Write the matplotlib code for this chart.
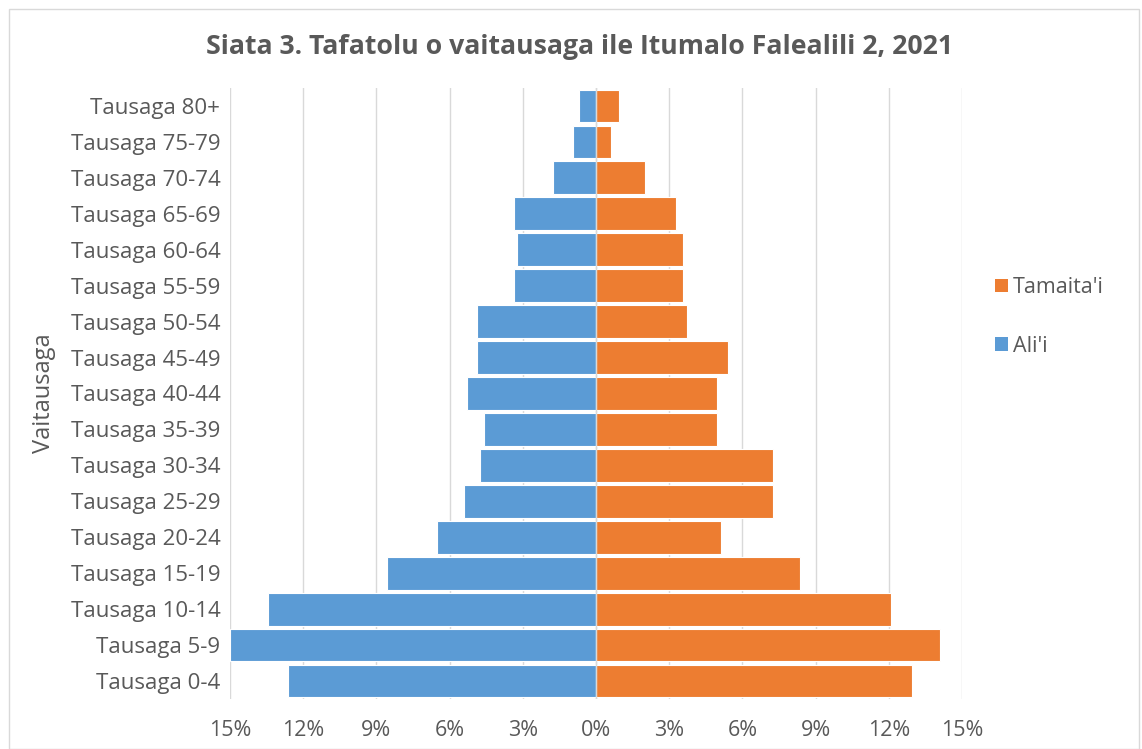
import matplotlib.pyplot as plt
import numpy as np
from matplotlib.ticker import FuncFormatter
from matplotlib.patches import Rectangle, Patch

plt.rcParams['font.family'] = ['Open Sans', 'DejaVu Sans']

# ---------------------------------
# Data (percent of population)
# ---------------------------------
age_groups = ["Tausaga 0-4", "Tausaga 5-9", "Tausaga 10-14", "Tausaga 15-19",
              "Tausaga 20-24", "Tausaga 25-29", "Tausaga 30-34", "Tausaga 35-39",
              "Tausaga 40-44", "Tausaga 45-49", "Tausaga 50-54", "Tausaga 55-59",
              "Tausaga 60-64", "Tausaga 65-69", "Tausaga 70-74", "Tausaga 75-79",
              "Tausaga 80+"]
alii = [12.62, 15.02, 13.43, 8.55, 6.51, 5.41, 4.74, 4.60, 5.27, 4.87,
        4.87, 3.38, 3.25, 3.38, 1.75, 0.93, 0.68]
tamaitai = [12.97, 14.08, 12.07, 8.35, 5.11, 7.27, 7.27, 4.95, 4.95, 5.40,
            3.72, 3.56, 3.56, 3.26, 2.02, 0.63, 0.94]
x_ticks = [-15, -12, -9, -6, -3, 0, 3, 6, 9, 12, 15]

blue = "#5B9BD5"
orange = "#ED7D31"
txt = "#595959"
grid_c = "#D9D9D9"

W, H = 1142, 749
fig = plt.figure(figsize=(W / 100, H / 100), dpi=100)
ax = fig.add_axes([230 / W, 1 - 699 / H, 732 / W, 611 / H])

y = np.arange(len(age_groups))
ax.barh(y, [-v for v in alii], height=0.91, color=blue, edgecolor="white",
        linewidth=0.8, zorder=3)
ax.barh(y, tamaitai, height=0.91, color=orange, edgecolor="white",
        linewidth=0.8, zorder=3)

ax.set_xlim(-15, 15)
ax.set_ylim(-0.5, len(age_groups) - 0.5)
ax.set_xticks(x_ticks)
ax.xaxis.set_major_formatter(FuncFormatter(lambda v, p: f"{abs(int(round(v)))}%"))
ax.set_yticks(y)
ax.set_yticklabels(age_groups)
ax.tick_params(axis="x", length=0, pad=15, labelsize=15.5, labelcolor=txt)
ax.tick_params(axis="y", length=0, pad=7, labelsize=16, labelcolor=txt)
ax.grid(axis="x", color=grid_c, linewidth=1, zorder=0)
ax.axvline(0, color=grid_c, linewidth=1, zorder=4)
for s in ax.spines.values():
    s.set_visible(False)

ax.set_ylabel("Vaitausaga", fontsize=17, color=txt)
ax.yaxis.set_label_coords((56 - 230) / 732, 0.5)

fig.text(0.5 * (207 + 952) / W, 1 - 47 / H,
         "Siata 3. Tafatolu o vaitausaga ile Itumalo Falealili 2, 2021",
         ha="center", va="center", fontsize=19.2, fontweight="bold", color=txt)

handles = [Patch(facecolor=orange, label="Tamaita'i"),
           Patch(facecolor=blue, label="Ali'i")]
fig.legend(handles=handles, loc="center left",
           bbox_to_anchor=(976 / W, 1 - 317 / H), frameon=False,
           fontsize=15.5, labelcolor=txt, handlelength=0.6, handleheight=0.6,
           handletextpad=0.2, labelspacing=1.75)

fig.patches.append(Rectangle((9 / W, 0), 1130 / W, 1 - 9 / H,
                             transform=fig.transFigure, fill=False,
                             edgecolor=grid_c, linewidth=1))

fig.savefig("out.png", dpi=100)
